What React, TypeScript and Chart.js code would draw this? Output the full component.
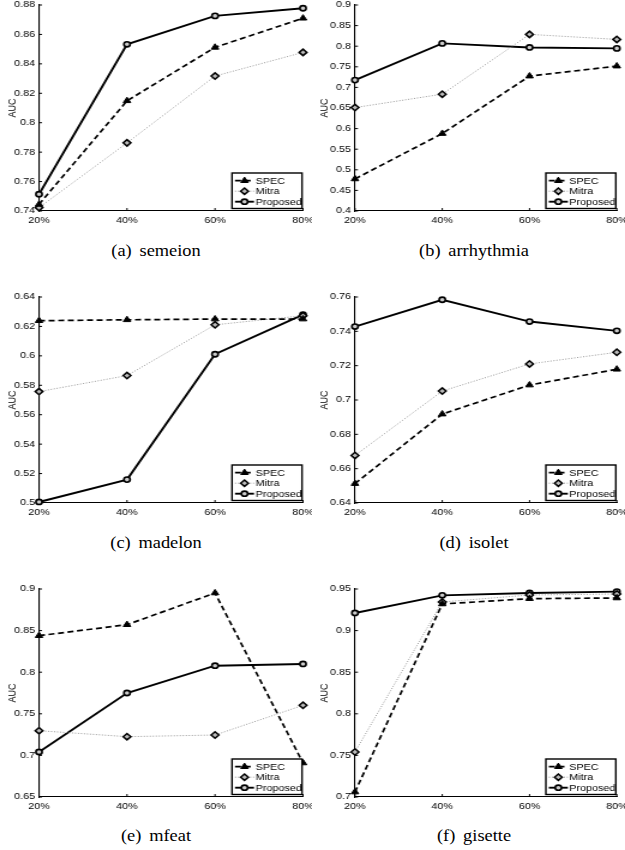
import React, { useEffect, useRef } from "react";
import { Chart, registerables } from "chart.js";

Chart.register(...registerables);
Chart.defaults.font.family = "'Liberation Sans', Arial, Helvetica, sans-serif";
Chart.defaults.font.size = 9;
Chart.defaults.color = "#000";

// ---------------- data ----------------
const xLabels = ["20%", "40%", "60%", "80%"];
const seriesNames = ["SPEC", "Mitra", "Proposed"];
const captions = ["(a) semeion", "(b) arrhythmia", "(c) madelon", "(d) isolet", "(e) mfeat", "(f) gisette"];

const semeionSpec = [0.7445, 0.8149, 0.8512, 0.871];
const semeionMitra = [0.7423, 0.7863, 0.8317, 0.8478];
const semeionProposed = [0.7514, 0.8533, 0.8726, 0.8778];

const arrhythmiaSpec = [0.4778, 0.588, 0.7274, 0.7517];
const arrhythmiaMitra = [0.651, 0.6836, 0.8287, 0.8165];
const arrhythmiaProposed = [0.7177, 0.8068, 0.797, 0.7947];

const madelonSpec = [0.6239, 0.6245, 0.625, 0.625];
const madelonMitra = [0.5757, 0.5866, 0.6211, 0.6273];
const madelonProposed = [0.5007, 0.5159, 0.6011, 0.628];

const isoletSpec = [0.6513, 0.6918, 0.7087, 0.7179];
const isoletMitra = [0.6677, 0.7052, 0.721, 0.7278];
const isoletProposed = [0.7428, 0.7584, 0.7457, 0.7403];

const mfeatSpec = [0.8439, 0.8571, 0.8952, 0.6909];
const mfeatMitra = [0.7297, 0.7225, 0.7245, 0.7602];
const mfeatProposed = [0.7041, 0.775, 0.8078, 0.8099];

const gisetteSpec = [0.706, 0.932, 0.9384, 0.9392];
const gisetteMitra = [0.7541, 0.9344, 0.9428, 0.944];
const gisetteProposed = [0.9212, 0.9424, 0.9452, 0.9468];

const specSeries = [semeionSpec, arrhythmiaSpec, madelonSpec, isoletSpec, mfeatSpec, gisetteSpec];
const mitraSeries = [semeionMitra, arrhythmiaMitra, madelonMitra, isoletMitra, mfeatMitra, gisetteMitra];
const proposedSeries = [semeionProposed, arrhythmiaProposed, madelonProposed, isoletProposed, mfeatProposed, gisetteProposed];

const yMins = [0.74, 0.4, 0.5, 0.64, 0.65, 0.7];
const yMaxs = [0.88, 0.9, 0.64, 0.76, 0.9, 0.95];
const ySteps = [0.02, 0.05, 0.02, 0.02, 0.05, 0.05];

// ---------------- layout ----------------
const K = 1.2; // horizontal stretch of the figure
const COLS = [
  { x0: 0, cw: 260, chartL: 39, chartR: 303, capX: 156 },
  { x0: 312, cw: 261, chartL: 355, chartR: 617, capX: 474 },
];
const ROWS = [
  { chartT: 5, chartB: 211, capY: 250 },
  { chartT: 297, chartB: 503, capY: 542 },
  { chartT: 589, chartB: 797, capY: 835 },
];
const PAD_TOP = 12;
const X_AXIS_H = 26;

function drawMarker(ctx, style, x, y, r, fill, stroke, lw) {
  ctx.save();
  ctx.setLineDash([]);
  ctx.beginPath();
  if (style === "triangle") {
    ctx.moveTo(x, y - r);
    ctx.lineTo(x + r * Math.sin((2 * Math.PI) / 3), y + r * 0.5);
    ctx.lineTo(x - r * Math.sin((2 * Math.PI) / 3), y + r * 0.5);
    ctx.closePath();
  } else if (style === "rectRot") {
    ctx.moveTo(x, y - r);
    ctx.lineTo(x + r, y);
    ctx.lineTo(x, y + r);
    ctx.lineTo(x - r, y);
    ctx.closePath();
  } else {
    ctx.arc(x, y, r, 0, Math.PI * 2);
  }
  ctx.fillStyle = fill;
  ctx.fill();
  ctx.lineWidth = lw;
  ctx.strokeStyle = stroke;
  ctx.stroke();
  ctx.restore();
}

const inwardTicks = {
  id: "inwardTicks",
  beforeDatasetsDraw(chart) {
    const { ctx, chartArea: ca, scales } = chart;
    ctx.save();
    ctx.strokeStyle = "#000";
    ctx.lineWidth = 1;
    scales.x.ticks.forEach((_, i) => {
      const px = scales.x.getPixelForTick(i);
      ctx.beginPath();
      ctx.moveTo(px, ca.bottom);
      ctx.lineTo(px, ca.bottom - 3);
      ctx.stroke();
    });
    scales.y.ticks.forEach((_, i) => {
      const py = scales.y.getPixelForTick(i);
      ctx.beginPath();
      ctx.moveTo(ca.left, py);
      ctx.lineTo(ca.left + 3 / K, py);
      ctx.stroke();
    });
    ctx.restore();
  },
};

const boxLegend = {
  id: "boxLegend",
  afterDatasetsDraw(chart) {
    const { ctx, chartArea: ca } = chart;
    const bw = 70 / K;
    const bh = 35.5;
    const right = ca.right - 1 / K;
    const bottom = ca.bottom - 2.5;
    const left = right - bw;
    const top = bottom - bh;
    ctx.save();
    ctx.fillStyle = "#fff";
    ctx.fillRect(left, top, bw, bh);
    ctx.setLineDash([]);
    ctx.strokeStyle = "#000";
    ctx.lineWidth = 1.4;
    ctx.strokeRect(left, top, bw, bh);
    chart.data.datasets.forEach((ds, i) => {
      const y = top + 7.7 + i * 10.5;
      const x1 = left + 3 / K;
      const x2 = left + 22 / K;
      ctx.beginPath();
      ctx.setLineDash(ds.borderDash || []);
      ctx.strokeStyle = ds.borderColor;
      ctx.lineWidth = ds.borderWidth;
      ctx.moveTo(x1, y);
      ctx.lineTo(x2, y);
      ctx.stroke();
      ctx.setLineDash([]);
      drawMarker(ctx, ds.pointStyle, (x1 + x2) / 2, y, ds.pointRadius, ds.pointBackgroundColor, ds.pointBorderColor, ds.pointBorderWidth);
      ctx.fillStyle = "#000";
      ctx.font = "9px 'Liberation Sans', Arial, sans-serif";
      ctx.textBaseline = "middle";
      ctx.textAlign = "left";
      ctx.fillText(ds.label, left + 23.5 / K, y + 0.5);
    });
    ctx.restore();
  },
};

function Panel({ idx }) {
  const ref = useRef(null);
  const col = COLS[idx % 2];
  const row = ROWS[Math.floor(idx / 2)];
  const H = PAD_TOP + (row.chartB - row.chartT) + X_AXIS_H;
  const yAxisW = (col.chartL - col.x0) / K;
  const padRight = col.cw - (col.chartR - col.x0) / K;

  useEffect(() => {
    const chart = new Chart(ref.current, {
      type: "line",
      data: {
        labels: xLabels,
        datasets: [
          {
            label: seriesNames[0],
            data: specSeries[idx],
            borderColor: "#000",
            borderWidth: 1.7,
            borderDash: [5, 3],
            pointStyle: "triangle",
            pointRadius: 3.6,
            pointBackgroundColor: "#000",
            pointBorderColor: "#000",
            pointBorderWidth: 1,
            fill: false,
            tension: 0,
            clip: false,
          },
          {
            label: seriesNames[1],
            data: mitraSeries[idx],
            borderColor: "#999",
            borderWidth: 1,
            borderDash: [1, 1.5],
            pointStyle: "rectRot",
            pointRadius: 3.2,
            pointBackgroundColor: "#bbb",
            pointBorderColor: "#000",
            pointBorderWidth: 1.5,
            fill: false,
            tension: 0,
            clip: false,
          },
          {
            label: seriesNames[2],
            data: proposedSeries[idx],
            borderColor: "#000",
            borderWidth: 1.9,
            borderDash: [],
            pointStyle: "circle",
            pointRadius: 2.6,
            pointBackgroundColor: "#ccc",
            pointBorderColor: "#000",
            pointBorderWidth: 1.6,
            fill: false,
            tension: 0,
            clip: false,
          },
        ],
      },
      options: {
        responsive: false,
        animation: false,
        devicePixelRatio: 1,
        events: [],
        layout: { padding: { top: PAD_TOP, left: 0, right: padRight, bottom: 0 } },
        plugins: { legend: { display: false }, tooltip: { enabled: false } },
        scales: {
          x: {
            type: "category",
            offset: false,
            grid: { display: false, drawTicks: false },
            border: { display: true, color: "#000", width: 1.1 },
            ticks: { color: "#000", font: { size: 9 }, padding: 4, maxRotation: 0, autoSkip: false },
            afterFit: (s) => {
              s.height = X_AXIS_H;
              s.paddingLeft = 0;
              s.paddingRight = 0;
            },
          },
          y: {
            type: "linear",
            min: yMins[idx],
            max: yMaxs[idx],
            grid: { display: false, drawTicks: false },
            border: { display: true, color: "#000", width: 1.1 },
            ticks: {
              stepSize: ySteps[idx],
              color: "#000",
              font: { size: 9 },
              padding: 4 / K,
              autoSkip: false,
              callback: (v) => String(parseFloat(Number(v).toFixed(4))),
            },
            title: { display: true, text: "AUC", color: "#000", font: { size: 9 }, padding: { top: 5.4, bottom: 0 } },
            afterFit: (s) => {
              s.width = yAxisW;
              s.paddingTop = 0;
              s.paddingBottom = 0;
            },
          },
        },
      },
      plugins: [inwardTicks, boxLegend],
    });
    return () => chart.destroy();
  }, [idx]);

  return (
    <canvas
      ref={ref}
      width={col.cw}
      height={H}
      style={{ position: "absolute", left: col.x0, top: row.chartT - PAD_TOP, width: col.cw * K, height: H }}
    />
  );
}

export default function App() {
  return (
    <div style={{ position: "absolute", left: 0, top: 0, width: 625, height: 850, background: "#fff", overflow: "hidden" }}>
      {captions.map((_, i) => (
        <Panel key={"p" + i} idx={i} />
      ))}
      {captions.map((c, i) => {
        const col = COLS[i % 2];
        const row = ROWS[Math.floor(i / 2)];
        return (
          <div
            key={"c" + i}
            style={{
              position: "absolute",
              left: col.capX,
              top: row.capY,
              transform: "translate(-50%, -50%) scaleX(1.08)",
              whiteSpace: "nowrap",
              fontFamily: "'Liberation Serif', 'Times New Roman', serif",
              fontSize: 17,
              wordSpacing: 3,
              color: "#000",
              lineHeight: 1,
            }}
          >
            {c}
          </div>
        );
      })}
    </div>
  );
}
